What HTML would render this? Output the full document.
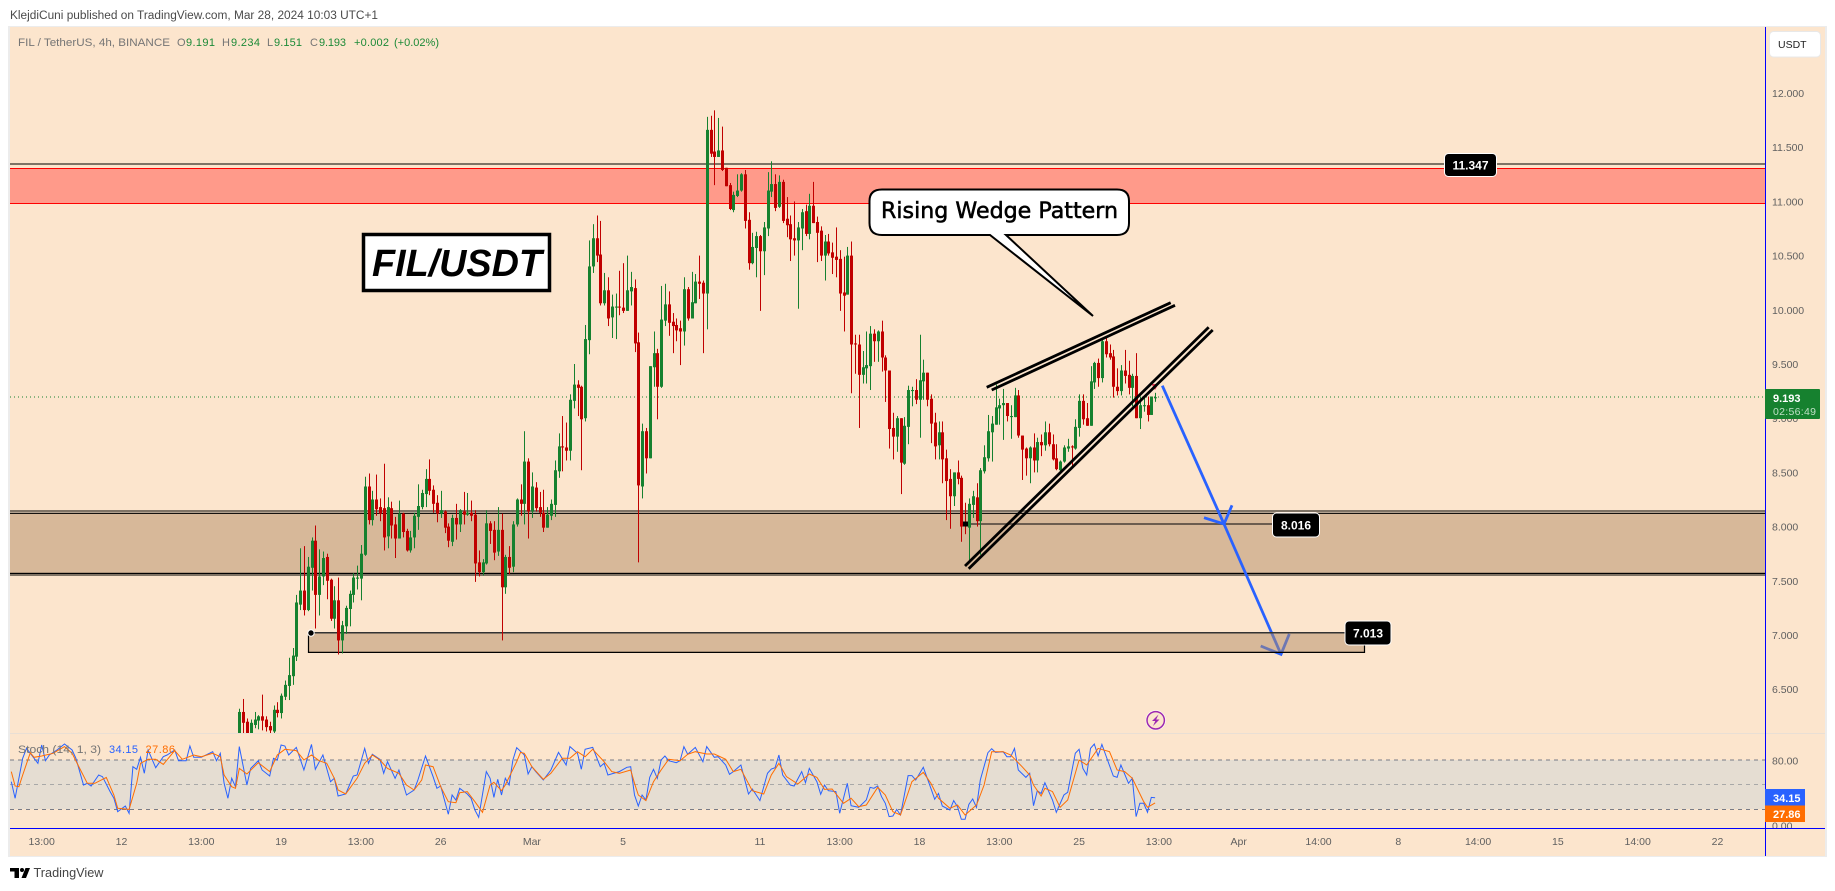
<!DOCTYPE html>
<html lang="en">
<head>
<meta charset="utf-8">
<title>FIL/USDT 4h chart</title>
<style>
html,body{margin:0;padding:0;background:#fff;width:1835px;height:891px;overflow:hidden}
svg{display:block;font-family:"Liberation Sans",sans-serif}
.ax{font-size:10.5px;fill:#5f5f5f}
</style>
</head>
<body>
<svg id="chart" xmlns="http://www.w3.org/2000/svg" width="1835" height="891" viewBox="0 0 1835 891">
<defs>
<clipPath id="priceClip"><rect x="10" y="27" width="1755" height="706"/></clipPath>
<clipPath id="stochClip"><rect x="10" y="734" width="1755" height="94"/></clipPath>
<clipPath id="stochAxisClip"><rect x="1766" y="734" width="59" height="94"/></clipPath>
</defs>
<text x="10" y="19" font-size="11.5" fill="#4a4a4a" textLength="368" lengthAdjust="spacingAndGlyphs">KlejdiCuni published on TradingView.com, Mar 28, 2024 10:03 UTC+1</text>
<rect x="8" y="26" width="1819" height="831" fill="#ececec"/>
<rect x="10" y="27" width="1815" height="829" fill="#fce5cd"/>

<rect x="10" y="163" width="1755" height="2" fill="#7f7365"/>
<rect x="10" y="168" width="1755" height="35" fill="#ff9a8a"/>
<rect x="10" y="168" width="1755" height="1" fill="#ff0000"/>
<rect x="10" y="203" width="1755" height="1" fill="#ff0000"/>
<rect x="10" y="510" width="1755" height="2" fill="#7f7365"/>
<rect x="10" y="513" width="1755" height="61" fill="#d7b899"/>
<rect x="10" y="512.7" width="1755" height="1.2" fill="#000"/>
<rect x="10" y="572.8" width="1755" height="1.2" fill="#000"/>
<rect x="10" y="574" width="1755" height="2" fill="#7f7365"/>
<line x1="10" y1="397" x2="1765" y2="397" stroke="#16812f" stroke-width="1" stroke-dasharray="1 3"/>
<line x1="965" y1="524" x2="1272" y2="524" stroke="#6b5c4f" stroke-width="2"/>

<g fill="none" stroke="#2962ff" stroke-width="2.8">
<line x1="1162.3" y1="385.7" x2="1224" y2="524"/>
<polyline points="1204,517.7 1224,524 1232,505.3"/>
<line x1="1224" y1="524" x2="1281" y2="654.3"/>
<polyline points="1260.7,646 1281,654.3 1289.3,634"/>
</g>
<rect x="308.5" y="633" width="1055.5" height="19.5" fill="rgb(178,139,101)" fill-opacity="0.5"/>
<line x1="308.5" y1="632.8" x2="1345" y2="632.8" stroke="#333" stroke-width="1.5"/>
<polyline points="308.5,633 308.5,652.4 1364.5,652.4 1364.5,645" fill="none" stroke="#000" stroke-width="1.2"/>

<g id="candles" clip-path="url(#priceClip)"></g>

<circle cx="311" cy="633" r="3.2" fill="#000" stroke="#fff" stroke-width="1"/>
<rect x="963" y="521.5" width="5" height="5" fill="#000"/>
<polygon points="1151.5,384 1158.5,384 1155,390" fill="#e0344d"/>

<g stroke="#000" stroke-width="2.8">
<line x1="986.7" y1="387.3" x2="1170.7" y2="302.7"/>
<line x1="991.7" y1="390" x2="1175" y2="305.3"/>
<line x1="965" y1="566" x2="1208.7" y2="327.3"/>
<line x1="968.7" y1="568.7" x2="1212.7" y2="330"/>
</g>

<g>
<rect x="363.5" y="234.5" width="186" height="56" fill="#fff" stroke="#000" stroke-width="3.5"/>
<text x="372" y="276" font-size="38" font-weight="bold" font-style="italic" fill="#000" textLength="170" lengthAdjust="spacingAndGlyphs">FIL/USDT</text>
</g>

<g>
<path d="M882,189.5 H1117 Q1129,189.5 1129,201 V223 Q1129,235 1117,235 H1006 L1093,316 L990,235 H882 Q869.5,235 869.5,223 V201 Q869.5,189.5 882,189.5 Z" fill="#fff" stroke="#000" stroke-width="2"/>
<text x="881" y="218" font-family="'DejaVu Sans',sans-serif" font-size="22" fill="#000" stroke="#000" stroke-width="0.55" textLength="237" lengthAdjust="spacingAndGlyphs">Rising Wedge Pattern</text>
</g>

<g>
<rect x="1444.5" y="153.5" width="52" height="23" rx="4" fill="#000" stroke="#fff"/>
<text x="1470.5" y="169.5" font-size="12" font-weight="bold" fill="#fff" text-anchor="middle">11.347</text>
</g>
<g>
<rect x="1272.5" y="513" width="47" height="24" rx="4" fill="#000" stroke="#fff"/>
<text x="1296" y="529.5" font-size="12" font-weight="bold" fill="#fff" text-anchor="middle">8.016</text>
</g>
<g>
<rect x="1345" y="621" width="46" height="24" rx="4" fill="#000" stroke="#fff"/>
<text x="1368" y="637.5" font-size="12" font-weight="bold" fill="#fff" text-anchor="middle">7.013</text>
</g>

<g font-size="11">
<text x="18" y="46" fill="#757575" textLength="152" lengthAdjust="spacingAndGlyphs">FIL / TetherUS, 4h, BINANCE</text>
<text x="177" y="46" fill="#757575">O</text>
<text x="186" y="46" fill="#1c8a37" textLength="29">9.191</text>
<text x="222" y="46" fill="#757575">H</text>
<text x="231" y="46" fill="#1c8a37" textLength="29">9.234</text>
<text x="267" y="46" fill="#757575">L</text>
<text x="274" y="46" fill="#1c8a37" textLength="28">9.151</text>
<text x="310" y="46" fill="#757575">C</text>
<text x="319" y="46" fill="#1c8a37" textLength="27">9.193</text>
<text x="354" y="46" fill="#1c8a37" textLength="35">+0.002</text>
<text x="394" y="46" fill="#1c8a37" textLength="45">(+0.02%)</text>
</g>

<g id="lightning-badge">
<circle cx="1155.7" cy="720.3" r="10" fill="#fff"/>
<circle cx="1155.7" cy="720.3" r="8.7" fill="#fce5cd" stroke="#9c27b0" stroke-width="1.5"/>
<polygon points="1158.5,714.5 1152,721 1155.3,721 1153,726 1159.5,719.5 1156.2,719.5" fill="#9c27b0"/>
</g>

<rect x="10" y="733" width="1815" height="1" fill="#e9dfd5"/>
<rect x="10" y="760" width="1755" height="49" fill="#e5ddd2"/>
<line x1="10" y1="760" x2="1765" y2="760" stroke="#787b86" stroke-dasharray="4 4"/>
<line x1="10" y1="784.5" x2="1765" y2="784.5" stroke="#a8a8a8" stroke-dasharray="4 4"/>
<line x1="10" y1="809.5" x2="1765" y2="809.5" stroke="#787b86" stroke-dasharray="4 4"/>
<g id="stoch" clip-path="url(#stochClip)"></g>
<g font-size="11">
<text x="18" y="753" fill="#757575" textLength="83" lengthAdjust="spacingAndGlyphs">Stoch (14, 1, 3)</text>
<text x="109" y="753" fill="#2962ff" textLength="29">34.15</text>
<text x="145.5" y="753" fill="#ff6d00" textLength="29.5">27.86</text>
</g>

<g id="priceAxis"></g>
<g id="stochAxis" clip-path="url(#stochAxisClip)"></g>
<g id="timeAxis"></g>

<rect x="1765" y="27" width="1" height="829" fill="#0000ff"/>
<rect x="10" y="828" width="1815" height="1" fill="#0000ff"/>

<g>
<rect x="1769.5" y="31.5" width="51" height="25.5" rx="4" fill="#fff" stroke="#e8e8e8"/>
<text x="1778" y="48" font-size="10.5" fill="#222">USDT</text>
</g>
<g>
<rect x="1765" y="389" width="55" height="30" rx="1" fill="#16812f"/>
<text x="1773" y="402" font-size="11" font-weight="bold" fill="#fff">9.193</text>
<text x="1773" y="415" font-size="10.5" fill="#bfe0c6" textLength="43">02:56:49</text>
</g>
<g>
<rect x="1765" y="789" width="40" height="16.5" fill="#2962ff"/>
<text x="1773" y="802" font-size="11" font-weight="bold" fill="#fff">34.15</text>
<rect x="1765" y="805.5" width="40" height="16.5" fill="#ff6d00"/>
<text x="1773" y="818" font-size="11" font-weight="bold" fill="#fff">27.86</text>
</g>

<g>
<path d="M10,868 H19 V878 H14.5 V871.5 H10 Z" fill="#000"/>
<circle cx="22" cy="870" r="2" fill="#000"/>
<polygon points="25.5,868 30,868 26,878 21.5,878" fill="#000"/>
<text x="33.5" y="877" font-size="12.5" fill="#444" textLength="70" lengthAdjust="spacingAndGlyphs">TradingView</text>
</g>
</svg>

<script>
const highs = [
6.32,6.41,6.23,6.22,6.29,6.26,6.45,6.25,6.20,6.35,6.38,6.46,6.58,6.79,6.88,7.37,7.80,7.82,7.72,7.90,
8.01,7.79,7.77,7.75,7.52,7.45,7.53,7.13,7.27,7.41,7.57,7.64,7.83,8.46,8.49,8.33,8.48,8.26,8.58,8.27,
8.23,8.09,8.24,8.13,7.98,7.96,8.13,8.39,8.34,8.53,8.62,8.38,8.29,8.33,8.15,8.03,8.11,8.21,8.16,8.32,
8.31,8.24,8.15,7.78,7.70,8.15,8.05,8.05,8.18,8.12,7.74,7.82,8.05,8.26,8.39,8.88,8.63,8.50,8.41,8.32,
8.34,8.18,8.25,8.61,8.86,9.02,8.96,9.22,9.50,9.35,9.30,9.86,10.64,10.79,10.87,10.82,10.34,10.30,10.14,10.15,
10.36,10.43,10.50,10.35,10.28,9.79,8.95,8.91,9.48,9.80,9.64,10.22,10.24,10.17,9.97,9.92,9.90,10.30,10.21,10.35,
10.33,10.50,10.27,11.78,11.79,11.84,11.77,11.69,11.31,11.17,11.09,11.25,11.26,11.29,10.90,10.71,10.72,10.69,10.81,11.27,
11.37,11.25,11.24,11.20,11.04,10.87,11.00,10.81,10.93,10.97,11.07,11.18,10.86,10.77,10.69,10.70,10.62,10.76,10.55,10.49,
10.58,10.63,9.77,9.77,9.62,9.80,9.85,9.82,9.81,9.90,9.58,9.44,9.05,9.02,9.00,9.01,9.30,9.29,9.36,9.77,
9.54,9.42,9.22,9.05,8.97,8.97,8.71,8.53,8.50,8.61,8.47,8.22,8.26,8.33,8.40,8.54,8.75,9.03,9.02,9.31,
9.18,9.27,9.14,9.12,9.28,9.26,8.84,8.73,8.74,8.86,8.82,8.85,8.97,8.95,8.85,8.76,8.61,8.75,8.81,8.75,
8.99,9.22,9.22,9.14,9.48,9.52,9.55,9.72,9.76,9.68,9.63,9.46,9.49,9.63,9.53,9.41,9.60,9.20,9.19,9.20,9.20,9.234];
const lows = [
6.05,6.08,6.02,6.03,6.14,6.13,6.12,6.11,6.09,6.09,6.24,6.23,6.40,6.40,6.54,6.76,7.23,7.18,7.22,7.41,
7.06,7.18,7.46,7.33,7.13,7.06,6.82,6.83,7.01,7.08,7.30,7.42,7.32,7.73,8.02,8.01,8.10,8.05,7.78,7.80,
7.89,7.71,7.89,7.90,7.77,7.76,7.80,7.97,8.16,8.18,8.29,8.13,8.04,8.08,7.94,7.81,7.82,7.88,7.95,8.02,
8.10,8.05,7.49,7.54,7.55,7.65,7.84,7.69,7.73,6.95,7.38,7.56,7.58,8.00,8.10,8.02,7.89,8.08,8.14,8.09,
7.95,7.99,8.06,8.09,8.45,8.51,8.61,8.61,9.09,9.02,8.52,8.97,9.59,10.34,10.44,10.04,10.04,9.85,9.74,9.73,
9.95,9.97,9.99,10.04,9.61,7.67,8.26,8.49,8.63,9.29,8.99,9.28,9.85,9.76,9.60,9.71,9.49,9.67,9.90,9.92,
10.06,10.10,9.60,9.82,11.41,11.15,11.41,11.28,11.14,10.92,10.90,11.04,11.09,10.75,10.37,10.42,10.30,9.99,10.32,10.68,
11.04,10.91,10.94,10.80,10.67,10.45,10.50,10.01,10.55,10.68,10.65,10.80,10.44,10.45,10.27,10.50,10.33,10.30,9.99,9.80,
10.14,9.23,9.41,8.91,9.32,9.32,9.26,9.52,9.52,9.43,9.15,8.72,8.62,8.69,8.30,8.57,8.76,9.11,9.13,8.82,
9.17,9.11,8.77,8.62,8.62,8.40,8.06,7.98,8.19,8.39,7.86,7.93,7.68,8.08,8.00,7.74,8.49,8.60,8.60,8.94,
8.94,8.80,8.97,8.81,9.01,8.82,8.43,8.47,8.40,8.50,8.50,8.65,8.70,8.74,8.61,8.52,8.51,8.59,8.69,8.56,
8.71,8.83,8.94,8.93,8.93,9.27,9.29,9.33,9.56,9.54,9.19,9.21,9.21,9.32,9.22,9.11,9.00,8.90,9.06,8.97,9.03,9.151];
const opens = [
6.09,6.29,6.20,6.06,6.17,6.21,6.25,6.22,6.16,6.11,6.31,6.28,6.43,6.53,6.62,6.80,7.28,7.41,7.23,7.62,
7.87,7.37,7.54,7.72,7.51,7.15,7.32,6.95,7.08,7.24,7.37,7.52,7.52,7.74,8.37,8.06,8.25,8.18,8.17,7.91,
8.17,8.02,7.89,8.12,7.96,7.78,7.90,8.09,8.18,8.30,8.44,8.34,8.22,8.12,8.14,8.00,7.86,8.08,8.02,8.14,
8.11,8.13,8.11,7.67,7.58,7.66,8.03,7.97,7.77,7.97,7.44,7.72,7.63,8.02,8.25,8.21,8.60,8.14,8.36,8.18,
8.13,7.99,8.10,8.20,8.51,8.74,8.73,8.70,9.16,9.31,9.29,9.00,9.72,10.40,10.66,10.51,10.06,10.18,9.93,10.02,
10.03,10.02,9.99,10.17,10.20,9.70,8.37,8.88,8.63,9.47,9.60,9.29,9.90,10.05,9.89,9.86,9.83,9.80,10.19,9.92,
10.06,10.26,10.25,10.15,11.66,11.46,11.41,11.47,11.31,11.15,10.92,11.05,11.10,11.25,10.83,10.43,10.57,10.68,10.54,10.75,
11.09,11.16,10.95,11.18,10.84,10.79,10.66,10.64,10.75,10.91,10.70,10.96,10.81,10.73,10.50,10.63,10.53,10.49,10.47,10.16,
10.14,10.50,9.69,9.68,9.40,9.46,9.48,9.78,9.71,9.80,9.56,9.44,8.91,8.83,9.00,8.58,8.92,9.25,9.26,9.17,
9.34,9.42,9.18,8.96,8.75,8.87,8.63,8.44,8.28,8.50,8.45,8.04,7.99,8.20,8.27,8.05,8.51,8.63,8.87,8.94,
9.09,9.12,9.14,9.01,9.01,9.21,8.84,8.72,8.63,8.73,8.61,8.78,8.75,8.87,8.76,8.63,8.52,8.60,8.72,8.74,
8.72,8.91,9.16,9.00,8.93,9.33,9.51,9.37,9.71,9.60,9.57,9.29,9.25,9.44,9.40,9.28,9.39,9.00,9.11,9.12,9.03,9.191];
const closes = [
6.29,6.19,6.06,6.19,6.22,6.25,6.21,6.15,6.12,6.31,6.28,6.44,6.54,6.63,6.81,7.30,7.41,7.23,7.63,7.87,
7.37,7.54,7.71,7.50,7.15,7.32,6.95,7.09,7.25,7.38,7.53,7.53,7.75,8.37,8.06,8.25,8.16,8.12,7.90,8.18,
8.01,7.89,8.12,7.95,7.78,7.90,8.10,8.19,8.31,8.44,8.33,8.21,8.12,8.15,7.99,7.87,8.08,8.02,8.15,8.11,
8.13,8.10,7.66,7.58,7.67,8.03,7.96,7.76,7.97,7.44,7.72,7.62,8.02,8.25,8.21,8.60,8.14,8.37,8.17,8.13,
7.99,8.11,8.21,8.52,8.74,8.73,8.70,9.17,9.31,9.28,8.99,9.73,10.40,10.66,10.50,10.06,10.18,9.92,10.03,10.03,
10.02,9.99,10.18,10.21,9.69,8.38,8.88,8.63,9.48,9.60,9.29,9.91,10.05,9.88,9.85,9.81,9.80,10.19,9.92,10.07,
10.26,10.24,10.15,11.66,11.44,11.41,11.47,11.29,11.14,10.93,11.06,11.10,11.25,10.82,10.43,10.58,10.68,10.54,10.76,11.10,
11.16,10.94,11.18,10.82,10.78,10.65,10.64,10.76,10.90,10.70,10.96,10.80,10.71,10.50,10.63,10.52,10.48,10.46,10.15,10.13,
10.50,9.68,9.68,9.40,9.47,9.49,9.78,9.71,9.80,9.56,9.44,8.90,8.83,9.00,8.59,8.93,9.26,9.26,9.17,9.35,
9.42,9.17,8.95,8.74,8.87,8.62,8.42,8.28,8.50,8.44,8.00,8.01,8.21,8.28,8.05,8.52,8.64,8.88,8.95,9.10,
9.12,9.14,9.02,9.02,9.21,8.84,8.71,8.63,8.73,8.61,8.78,8.75,8.87,8.76,8.62,8.53,8.60,8.73,8.74,8.73,
8.92,9.16,8.99,8.93,9.34,9.51,9.37,9.71,9.59,9.56,9.29,9.25,9.44,9.39,9.28,9.39,9.00,9.12,9.12,9.03,9.20,9.193];

const stochKBars = [-60,-59,-57,-56,-55,-53,-52,-51,-50,-48,-46,-44,-43,-42,-41,-40,-39,-37,-36,-34,-33,-32,-30,-29,-28,-27,-26,-25,-24,-22,-20,-19,-17,-16,-14,-13,-12,-10,-7,-6,-5,-4,-3,-2,-1,0,2,3,5,6,8,9,10,11,12,13,15,17,19,20,22,24,25,26,28,30,31,33,34,35,37,38,39,41,42,44,46,47,49,51,52,53,55,56,57,58,60,61,62,63,65,66,67,68,69,70,71,72,73,75,76,77,78,80,82,84,86,87,89,90,91,93,95,96,97,100,102,103,104,105,106,107,108,109,110,111,112,113,115,116,117,118,120,122,123,125,126,128,129,130,132,134,135,137,139,140,141,142,143,145,146,148,149,150,152,153,154,155,157,158,160,161,163,165,166,167,168,169,170,171,172,173,174,176,177,178,180,182,183,184,185,187,188,189,190,191,192,193,194,195,197,198,199,201,202,203,204,205,207,208,209,210,211,212,214,215,217,218,220,221,222,223,224,225,226,227,228,230,231,232,234,235,236,237,238,239,240,241];
const stochKValues = [53.9,33.5,82.5,94.7,88.6,76.4,98.8,79.6,86.6,92.7,100,92.7,82.5,66.2,49.8,51.9,48.6,62.1,60,41.7,33.5,17.2,24.1,15.2,72.3,69,83.7,64.1,92.7,71,84.5,86.6,92.7,79.6,79.6,97.6,83.7,83.7,90.6,79.6,88.6,51.9,33.5,58,47.8,96.8,49.8,70.2,79.6,68.2,60.9,82.5,80.4,98.8,97.6,86.6,95.9,68.2,99.6,69,86.6,53.9,58,36.4,38.8,60.9,62.1,94.7,76.4,87.4,81.3,64.1,78.4,58,68.2,37.6,43.7,56,85.3,60,45.8,48.6,13.9,37.6,31.5,45.8,38.8,33.5,19.2,10.3,66.2,58,34.7,56.8,37.6,58,49.8,80.4,95.5,86.6,63.3,72.3,66.2,56,68.2,89.8,74.3,96.8,88.6,69,93.5,95.9,72.3,76.4,62.1,66.2,71.5,72.3,37.6,24.1,37.6,31.5,59.2,69,58,80.4,85.3,79.6,77.2,79.6,96.8,87.4,95.9,78.4,96.8,83.7,84.5,74.3,62.9,66.2,74.3,38.8,44.9,30.7,64.1,69.4,71,86.6,62.1,49.8,48.6,66.2,52.7,70.2,53.9,38.4,49.8,42.9,41.7,15.2,51.9,24.5,22.5,31.5,47,45.8,48.6,35.6,27.4,11.1,11.9,20,13.1,61.3,61.3,56,71.5,45.8,32.3,39.6,24.1,19.2,30.7,23.3,7.8,7.8,26.2,32.7,22.5,56,89.4,94.3,89.8,90.6,84.5,84.5,94.7,68.2,59.2,64.1,24.5,42.9,39.6,52.7,31.5,16.4,37.6,40.9,88.6,93.5,70.2,62.1,94.7,100,85.3,99.6,86.6,60.9,59.2,74.3,51.9,58,11.1,27.4,27.4,16.4,34.7,34.15];
const stochDBars = [-60,-59,-58,-57,-55,-54,-52,-49,-46,-44,-42,-40,-38,-35,-33,-32,-29,-27,-26,-24,-22,-20,-17,-15,-12,-10,-7,-5,-4,-2,-1,0,2,5,8,10,12,15,17,19,21,23,25,26,28,31,33,35,37,39,42,44,46,48,49,51,53,55,57,58,60,62,64,66,67,69,70,73,74,75,77,80,82,85,87,89,91,93,96,98,100,103,104,105,107,109,111,113,116,118,120,123,125,128,130,132,135,138,140,142,144,147,150,152,154,156,159,161,163,165,168,170,172,174,177,180,182,184,187,189,191,194,196,198,201,203,206,208,209,211,212,214,216,218,221,223,226,229,231,233,235,238,239,241];
const stochDValues = [66.2,48.6,47.8,62.1,89.4,83.7,85.3,88.6,96.8,88.6,70.2,51.9,51.9,59.2,37.6,21.3,20,51.9,76.4,81.3,81.3,75.1,91.9,81.3,86.6,84.5,88.6,84.5,62.1,47.8,45.8,70.2,63.3,77.2,66.2,86.6,93.5,91.9,80.4,86.6,79.6,76.4,58,43.7,38.8,58,76.4,86.6,80.4,70.2,64.1,49.8,43.7,56,74.3,72.3,47.8,29.4,28.2,40.4,41.7,29.4,16.4,49.8,53.1,42.9,49.8,78.4,89.8,88.6,72.3,56.8,64.1,82.5,82.5,90.6,84.5,93.5,78.4,66.2,64.1,68.2,51.9,37.6,30.7,53.9,68.2,81.3,79.6,87.4,90.6,87.8,87.8,81.3,66.2,69,42.9,38.8,62.1,76.4,60,51,63.3,59.2,44.5,44.9,27.4,33.5,23.3,25.4,47,37.6,17.2,13.1,53.9,65.3,51.9,33.5,21.3,25.4,13.1,25.4,49.8,90.6,90.6,86.6,72.3,62.1,49.8,36.4,45.8,41.7,22.5,31.5,80.4,74.3,94.7,90.6,68.2,66.2,58,29.4,22.5,27.86];

const priceTicks = [12,11.5,11,10.5,10,9.5,9,8.5,8,7.5,7,6.5];
const stochTicks = [80,40,20,0];
const timeLabels = ["13:00","12","13:00","19","13:00","26","Mar","5","11","13:00","18","13:00","25","13:00","Apr","14:00","8","14:00","15","14:00","22"];
const timeBars = [-52,-31,-10,11,32,53,77,101,137,158,179,200,221,242,263,284,305,326,347,368,389];

const NS = "http://www.w3.org/2000/svg";
function barX(i){ return 239.3 + 3.8 * i; }
function priceY(p){ return 93 + (12 - p) * 108.4; }
function stochY(v){ return 825.7 - 0.8167 * v; }
function shape(tag, parent, attrs){
  const el = document.createElementNS(NS, tag);
  for (const k in attrs) el.setAttribute(k, attrs[k]);
  parent.appendChild(el);
  return el;
}

const candleGroup = document.getElementById("candles");
for (let i = 0; i < closes.length; i++) {
  const color = closes[i] >= opens[i] ? "#16812f" : "#c00000";
  const cx = Math.round(barX(i));
  const wick = shape("rect", candleGroup, {x: cx, y: priceY(highs[i]), width: 1, height: Math.max(1, priceY(lows[i]) - priceY(highs[i])), fill: color});
  
  
  const top = priceY(Math.max(opens[i], closes[i]));
  const bottom = priceY(Math.min(opens[i], closes[i]));
  const body = shape("rect", candleGroup, {x: cx - 1, y: top, width: 3, height: Math.max(1, bottom - top), fill: color});
  
  
}

const stochGroup = document.getElementById("stoch");
const kPoints = stochKBars.map((b, i) => barX(b).toFixed(1) + "," + stochY(stochKValues[i]).toFixed(1)).join(" ");
const kLine = shape("polyline", stochGroup, {points: kPoints, fill: "none", stroke: "#2962ff", "stroke-width": 1});


const dPoints = stochDBars.map((b, i) => barX(b).toFixed(1) + "," + stochY(stochDValues[i]).toFixed(1)).join(" ");
const dLine = shape("polyline", stochGroup, {points: dPoints, fill: "none", stroke: "#ff6d00", "stroke-width": 1});



const priceAxis = document.getElementById("priceAxis");
priceTicks.forEach(t => {
  const el = shape("text", priceAxis, {x: 1772, y: priceY(t) + 4, class: "ax"});
  
  
  el.textContent = t.toFixed(3);
});
const stochAxis = document.getElementById("stochAxis");
stochTicks.forEach(t => {
  const el = shape("text", stochAxis, {x: 1772, y: stochY(t) + 4, class: "ax"});
  
  
  el.textContent = t.toFixed(2);
});
const timeAxis = document.getElementById("timeAxis");
timeLabels.forEach((label, i) => {
  const el = shape("text", timeAxis, {x: barX(timeBars[i]), y: 845, class: "ax", "text-anchor": "middle"});
  
  
  el.textContent = label;
});
</script>
</body>
</html>
